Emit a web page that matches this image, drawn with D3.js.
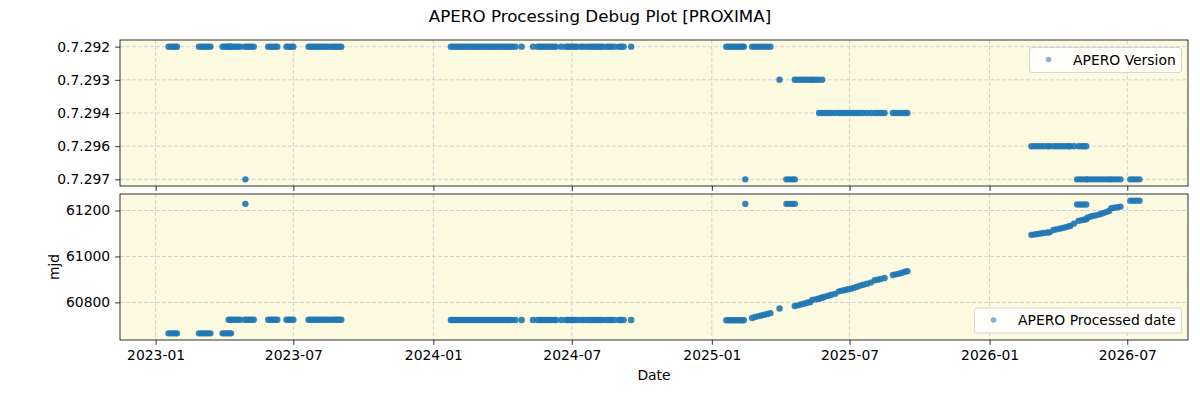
<!DOCTYPE html>
<html>
<head>
<meta charset="utf-8">
<script src="https://cdn.jsdelivr.net/npm/d3@7"></script>
<style>
  body { margin: 0; background: #fff; }
  svg { font-family: "DejaVu Sans", sans-serif; }
</style>
</head>
<body>
<svg id="chart" width="1200" height="400"></svg>
<script>
// version categories, top to bottom
const versions = ["0.7.292", "0.7.293", "0.7.294", "0.7.296", "0.7.297"];

// observation dates and processed mjd, one pair of arrays per version
const v292Dates = [
  "2023-01-18","2023-01-21","2023-01-24","2023-01-27","2023-01-29",
  "2023-02-27","2023-03-02","2023-03-05","2023-03-08","2023-03-11","2023-03-14",
  "2023-03-30","2023-04-02","2023-04-05","2023-04-08","2023-04-10",
  "2023-04-07","2023-04-10","2023-04-13","2023-04-16","2023-04-19","2023-04-22",
  "2023-04-28","2023-05-01","2023-05-04","2023-05-07","2023-05-10",
  "2023-05-29","2023-06-01","2023-06-04","2023-06-07","2023-06-10",
  "2023-06-22","2023-06-25","2023-06-28","2023-07-01",
  "2023-07-21","2023-07-24","2023-07-27","2023-07-30","2023-08-02","2023-08-05","2023-08-08",
  "2023-08-11","2023-08-14","2023-08-17","2023-08-21","2023-08-24","2023-08-27","2023-08-30","2023-09-02",
  "2024-01-24","2024-01-27","2024-01-30","2024-02-02","2024-02-05","2024-02-08","2024-02-11",
  "2024-02-14","2024-02-17","2024-02-20","2024-02-23","2024-02-26","2024-02-29","2024-03-03",
  "2024-03-06","2024-03-09","2024-03-12","2024-03-15","2024-03-18","2024-03-21","2024-03-24",
  "2024-03-27","2024-03-30","2024-04-02","2024-04-05","2024-04-08","2024-04-11","2024-04-14",
  "2024-04-18","2024-04-26",
  "2024-05-11","2024-05-17","2024-05-20","2024-05-23","2024-05-26","2024-05-29","2024-06-01",
  "2024-06-04","2024-06-07","2024-06-10","2024-06-17",
  "2024-06-23","2024-06-26","2024-06-29","2024-07-02","2024-07-05","2024-07-08",
  "2024-07-13","2024-07-16","2024-07-20","2024-07-24","2024-07-27","2024-07-30",
  "2024-08-02","2024-08-05","2024-08-08","2024-08-11","2024-08-16","2024-08-19","2024-08-22","2024-08-26",
  "2024-09-01","2024-09-04","2024-09-07","2024-09-17",
  "2025-01-20","2025-01-23","2025-01-26","2025-01-29","2025-02-01","2025-02-04","2025-02-07",
  "2025-02-10","2025-02-12",
  "2025-02-23","2025-02-27","2025-03-03","2025-03-07","2025-03-11","2025-03-15","2025-03-19"
];
const v292Mjd = [
  60665,60665,60665,60665,60665,
  60665,60665,60665,60665,60665,60665,
  60665,60665,60665,60665,60665,
  60724,60724,60724,60724,60724,60724,
  60724,60724,60724,60724,60724,
  60724,60724,60724,60724,60724,
  60724,60724,60724,60724,
  60724,60724,60724,60724,60724,60724,60724,
  60724,60724,60724,60724,60724,60724,60724,60724,
  60723,60723,60723,60723,60723,60723,60723,
  60723,60723,60723,60723,60723,60723,60723,
  60723,60723,60723,60723,60723,60723,60723,
  60723,60723,60723,60723,60723,60723,60723,
  60723,60723,
  60723,60723,60723,60723,60723,60723,60723,
  60723,60723,60723,60723,
  60723,60723,60723,60723,60723,60723,
  60723,60723,60723,60723,60723,60723,
  60723,60723,60723,60723,60723,60723,60723,60723,
  60723,60723,60723,60723,
  60722,60722,60722,60722,60722,60722,60722,
  60722,60722,
  60732,60736,60740,60743,60746,60749,60753
];

const v293Dates = [
  "2025-03-31",
  "2025-04-20","2025-04-24","2025-04-28","2025-05-02","2025-05-06","2025-05-10",
  "2025-05-13","2025-05-17","2025-05-21","2025-05-26"
];
const v293Mjd = [
  60773,
  60784,60787,60791,60794,60798,60801,
  60811,60813,60816,60820
];

const v294Dates = [
  "2025-05-22","2025-05-26","2025-05-30","2025-06-03","2025-06-07","2025-06-12",
  "2025-06-17","2025-06-21","2025-06-25","2025-06-29","2025-07-03",
  "2025-07-07","2025-07-11","2025-07-15","2025-07-19","2025-07-24","2025-07-29",
  "2025-08-03","2025-08-07","2025-08-11","2025-08-16",
  "2025-08-27","2025-08-31","2025-09-04","2025-09-08","2025-09-12","2025-09-15"
];
const v294Mjd = [
  60816,60821,60825,60829,60833,60837,
  60848,60851,60854,60857,60859,
  60864,60868,60873,60877,60881,60886,
  60896,60899,60902,60906,
  60919,60922,60925,60929,60933,60936
];

const v296Dates = [
  "2026-02-25","2026-03-01","2026-03-05","2026-03-09","2026-03-13","2026-03-18","2026-03-21",
  "2026-03-26","2026-03-30","2026-04-03","2026-04-07","2026-04-11","2026-04-15","2026-04-17",
  "2026-04-22",
  "2026-04-28","2026-05-02","2026-05-05","2026-05-08"
];
const v296Mjd = [
  61094,61096,61098,61100,61102,61104,61105,
  61115,61118,61121,61124,61127,61131,61133,
  61143,
  61155,61158,61160,61162
];

const v297Dates = [
  "2023-04-29",
  "2025-02-14",
  "2025-04-09","2025-04-13","2025-04-17","2025-04-20",
  "2026-04-26","2026-04-30","2026-05-04","2026-05-08",
  "2026-05-10","2026-05-14","2026-05-18","2026-05-22","2026-05-26","2026-05-30","2026-06-03","2026-06-07",
  "2026-06-10","2026-06-14","2026-06-18","2026-06-22",
  "2026-07-05","2026-07-09","2026-07-13","2026-07-17"
];
const v297Mjd = [
  61229,
  61229,
  61229,61229,61229,61229,
  61226,61226,61226,61226,
  61170,61174,61177,61180,61184,61188,61193,61198,
  61210,61212,61214,61217,
  61243,61243,61243,61243
];

const mjdTicks = [60800, 61000, 61200];

const parseDate = d3.timeParse("%Y-%m-%d");
const groups = [
  [v292Dates, v292Mjd], [v293Dates, v293Mjd], [v294Dates, v294Mjd],
  [v296Dates, v296Mjd], [v297Dates, v297Mjd]
];
let points = [];
groups.forEach((g, i) => {
  g[0].forEach((d, j) => points.push({date: parseDate(d), version: i, mjd: g[1][j]}));
});

let svg = d3.select("#chart"),
    left = 120, right = 1188,
    top1 = 40, bot1 = 186,
    top2 = 194, bot2 = 340,
    blue = "#1f77b4",
    tickSize = 4.9,
    fontSize = 13.9;

// x with matplotlib-like 5% margins
let ext = d3.extent(points, d => d.date);
let span = ext[1] - ext[0];
let x = d3.scaleTime()
  .domain([new Date(+ext[0] - span * 0.05), new Date(+ext[1] + span * 0.05)])
  .range([left, right]);

let y1 = d3.scaleLinear().domain([-0.2, versions.length - 0.8]).range([top1, bot1]);

let mext = d3.extent(points, d => d.mjd);
let mspan = mext[1] - mext[0];
let y2 = d3.scaleLinear()
  .domain([mext[0] - mspan * 0.05, mext[1] + mspan * 0.05])
  .range([bot2, top2]);

let xTicks = x.ticks(d3.timeMonth.every(6));

function panel(yTop, yBot, yScale, yTickVals, yFmt) {
  let g = svg.append("g");
  g.append("rect")
    .attr("x", left).attr("y", yTop)
    .attr("width", right - left).attr("height", yBot - yTop)
    .attr("fill", "#fcfae0");
  // grid
  g.selectAll(".gx").data(xTicks).enter().append("line")
    .attr("x1", d => x(d)).attr("x2", d => x(d))
    .attr("y1", yTop).attr("y2", yBot)
    .attr("stroke", "#c8c8d4").attr("stroke-width", 0.8)
    .attr("stroke-dasharray", "4,2");
  g.selectAll(".gy").data(yTickVals).enter().append("line")
    .attr("x1", left).attr("x2", right)
    .attr("y1", d => yScale(d)).attr("y2", d => yScale(d))
    .attr("stroke", "#c8c8d4").attr("stroke-width", 0.8)
    .attr("stroke-dasharray", "4,2");
  return g;
}

let p1 = panel(top1, bot1, y1, d3.range(versions.length));
let p2 = panel(top2, bot2, y2, mjdTicks);

// points
p1.selectAll("circle").data(points).enter().append("circle")
  .attr("cx", d => x(d.date)).attr("cy", d => y1(d.version))
  .attr("r", 3.2).attr("fill", blue).attr("fill-opacity", 0.9);

p2.selectAll("circle").data(points).enter().append("circle")
  .attr("cx", d => x(d.date)).attr("cy", d => y2(d.mjd))
  .attr("r", 3.2).attr("fill", blue).attr("fill-opacity", 0.9);

// axes
let yAxis1 = d3.axisLeft(y1).tickValues(d3.range(versions.length))
  .tickFormat(i => versions[i]).tickSize(tickSize).tickPadding(4.9);
let yAxis2 = d3.axisLeft(y2).tickValues(mjdTicks)
  .tickFormat(d3.format("d")).tickSize(tickSize).tickPadding(4.9);
let xAxisTop = d3.axisBottom(x).tickValues(xTicks).tickFormat("").tickSize(tickSize);
let xAxisBot = d3.axisBottom(x).tickValues(xTicks)
  .tickFormat(d3.timeFormat("%Y-%m")).tickSize(tickSize).tickPadding(4.9);

function styleAxis(sel) {
  sel.select(".domain").remove();
  sel.selectAll("line").attr("stroke", "#000").attr("stroke-width", 0.8);
  sel.selectAll("text").attr("fill", "#000")
    .style("font-size", fontSize + "px")
    .style("font-family", "DejaVu Sans, sans-serif");
}

svg.append("g").attr("transform", "translate(" + left + ",0)").call(yAxis1).call(styleAxis);
svg.append("g").attr("transform", "translate(" + left + ",0)").call(yAxis2).call(styleAxis);
svg.append("g").attr("transform", "translate(0," + bot1 + ")").call(xAxisTop).call(styleAxis);
svg.append("g").attr("transform", "translate(0," + bot2 + ")").call(xAxisBot).call(styleAxis);

// frames
[[top1, bot1], [top2, bot2]].forEach(r => {
  svg.append("rect")
    .attr("x", left).attr("y", r[0])
    .attr("width", right - left).attr("height", r[1] - r[0])
    .attr("fill", "none").attr("stroke", "#000").attr("stroke-width", 0.8);
});

// legends
function legend(x0, y0, w, label) {
  let g = svg.append("g");
  g.append("rect")
    .attr("x", x0).attr("y", y0).attr("width", w).attr("height", 25)
    .attr("rx", 2.5)
    .attr("fill", "#fff").attr("fill-opacity", 0.8)
    .attr("stroke", "#cccccc").attr("stroke-width", 0.8);
  g.append("circle")
    .attr("cx", x0 + 19).attr("cy", y0 + 12)
    .attr("r", 2.8).attr("fill", blue).attr("fill-opacity", 0.55);
  g.append("text")
    .attr("x", x0 + 43.5).attr("y", y0 + 17)
    .style("font-size", fontSize + "px")
    .text(label);
}
legend(1029.5, 47.5, 152, "APERO Version");
legend(974.5, 308, 207, "APERO Processed date");

// labels
svg.append("text")
  .attr("x", 600).attr("y", 22)
  .attr("text-anchor", "middle")
  .style("font-size", "16.7px")
  .text("APERO Processing Debug Plot [PROXIMA]");

svg.append("text")
  .attr("x", (left + right) / 2).attr("y", 380)
  .attr("text-anchor", "middle")
  .style("font-size", fontSize + "px")
  .text("Date");

svg.append("text")
  .attr("transform", "translate(59," + ((top2 + bot2) / 2) + ") rotate(-90)")
  .attr("text-anchor", "middle")
  .style("font-size", fontSize + "px")
  .text("mjd");
</script>
</body>
</html>
